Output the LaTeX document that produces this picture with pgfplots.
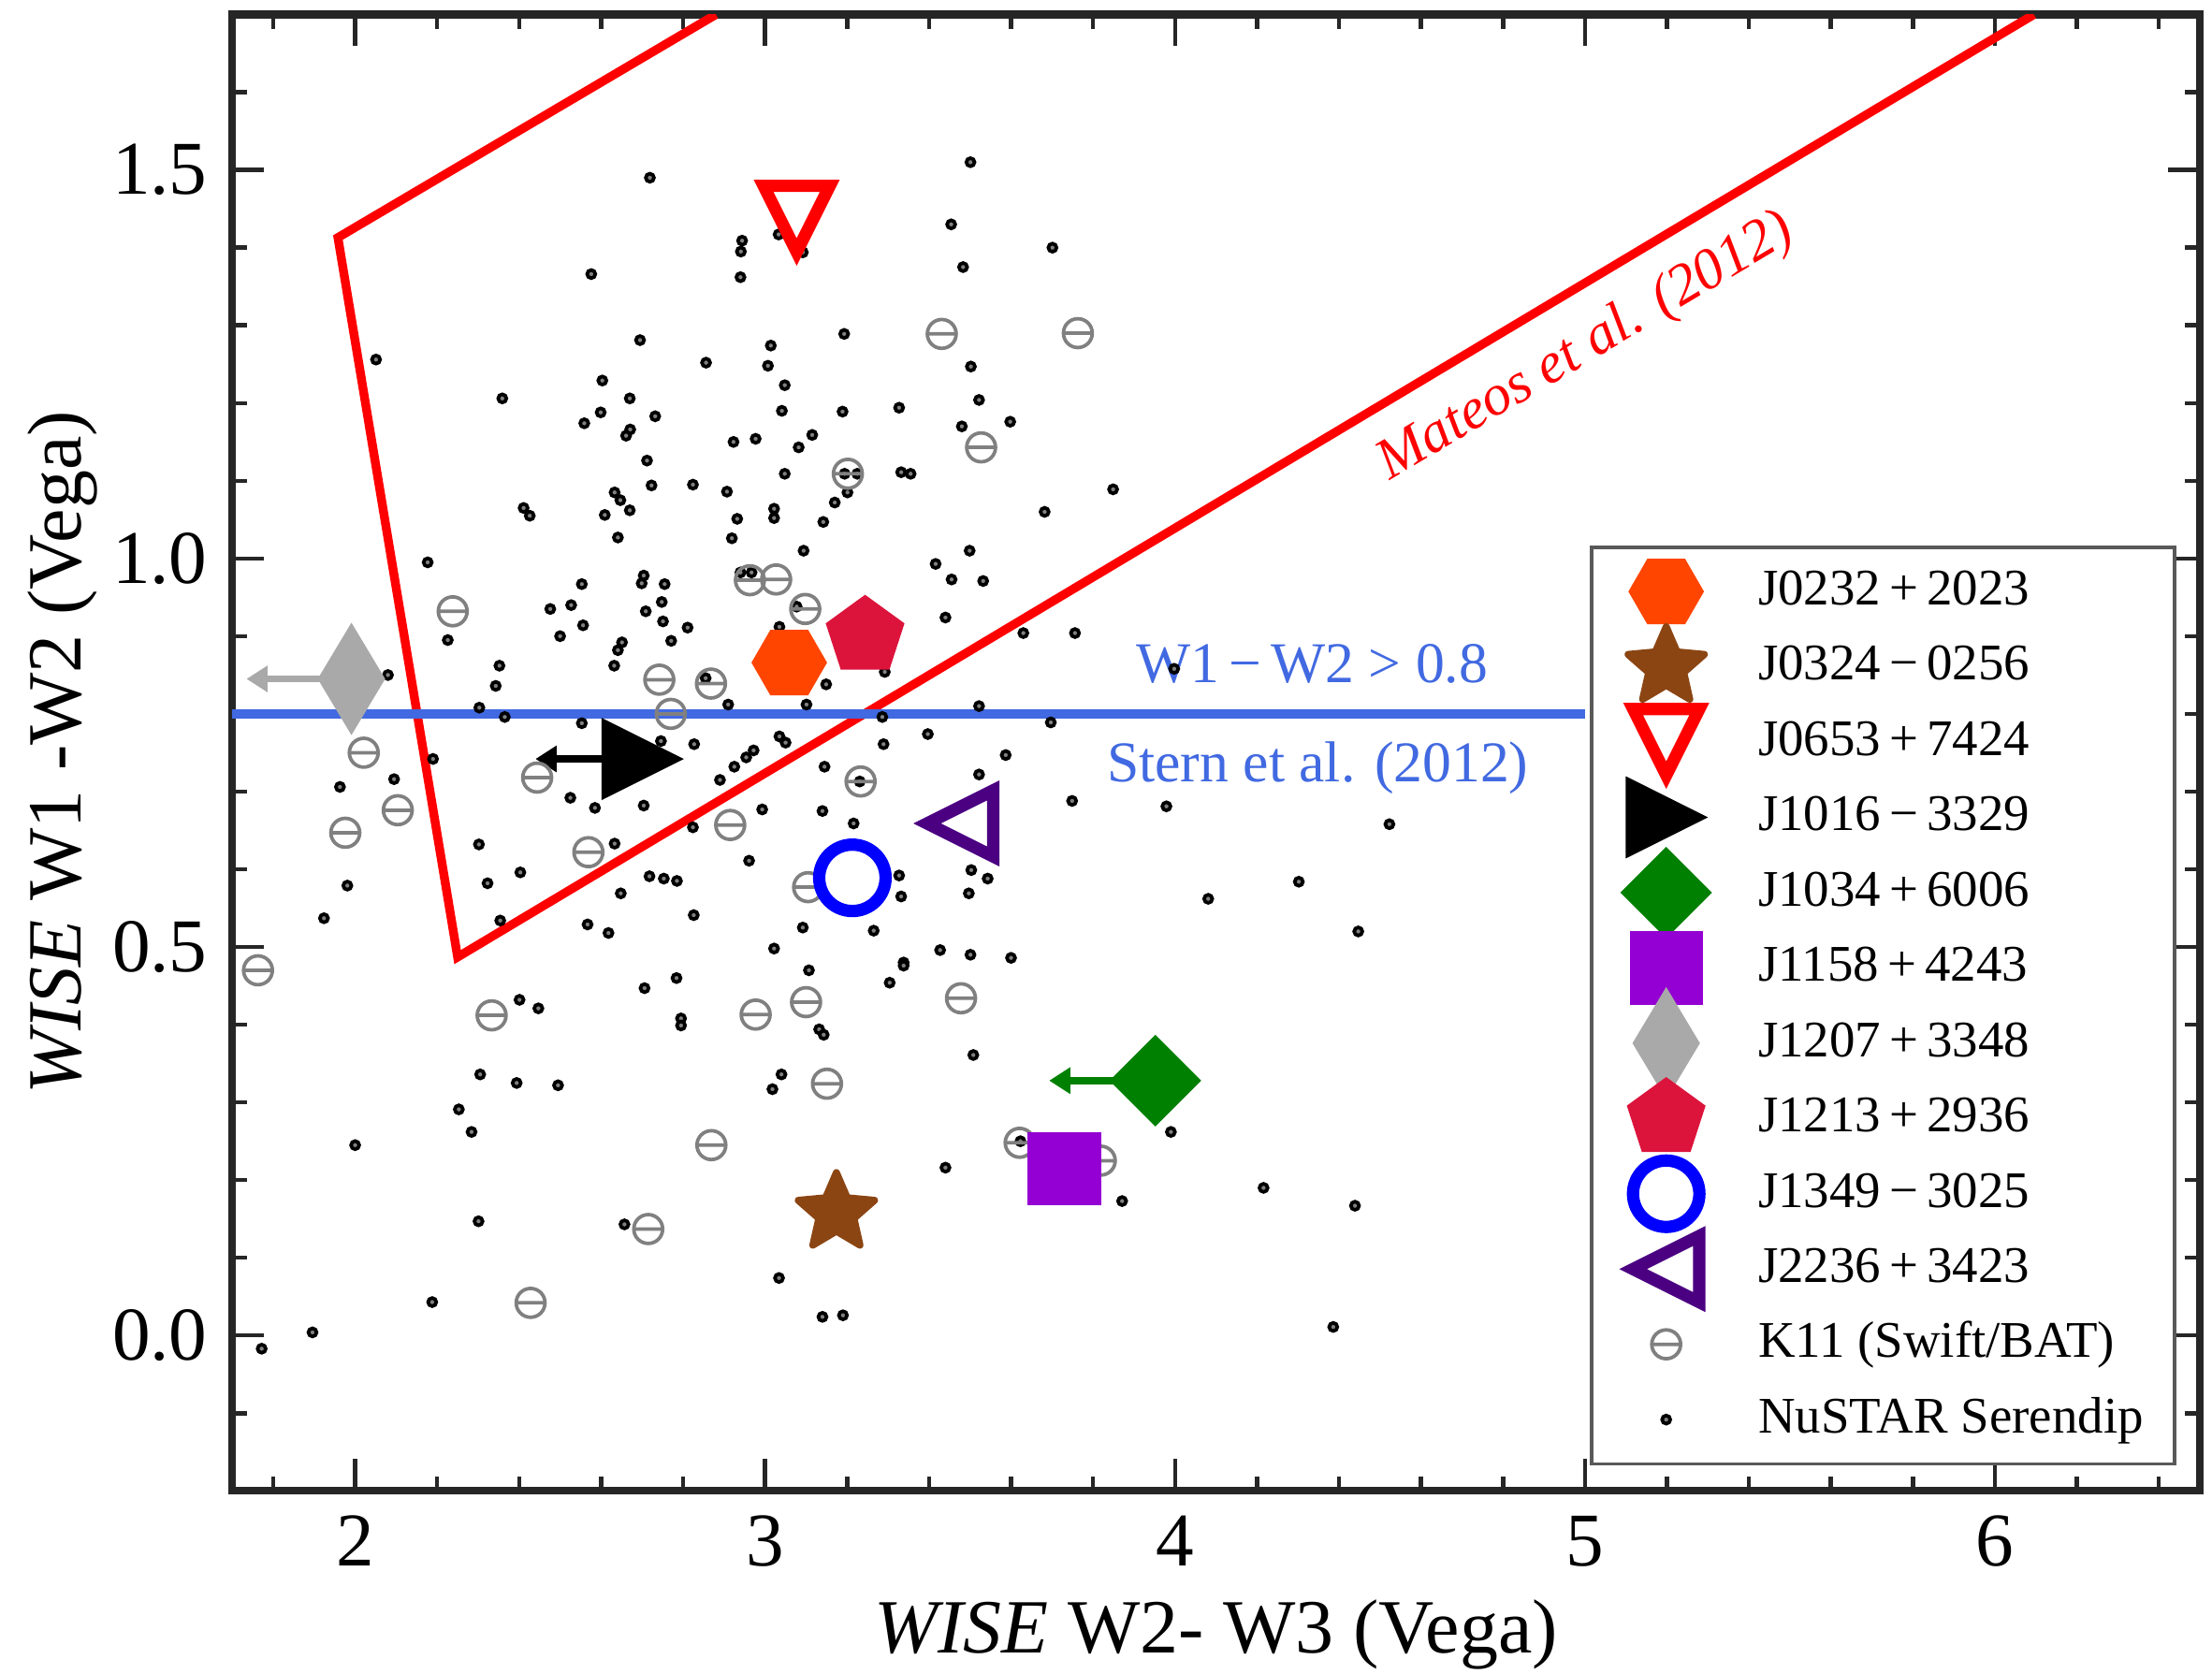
\documentclass[border=0pt]{standalone}
\usepackage{fontspec}
\setmainfont{Liberation Serif}
\usepackage{pgfplots}
\usepackage{pgfplotstable}
\pgfplotsset{compat=1.18}
\usetikzlibrary{arrows.meta}

\definecolor{cOrangeRed}{RGB}{255,69,0}
\definecolor{cSaddleBrown}{RGB}{139,69,19}
\definecolor{cGreen}{RGB}{0,128,0}
\definecolor{cDarkViolet}{RGB}{148,0,211}
\definecolor{cDarkGray}{RGB}{169,169,169}
\definecolor{cCrimson}{RGB}{220,20,60}
\definecolor{cIndigo}{RGB}{75,0,130}
\definecolor{cRoyalBlue}{RGB}{65,105,225}
\definecolor{cGrayK}{RGB}{128,128,128}
\definecolor{cFrame}{RGB}{38,38,38}

% ---- marker shapes -------------------------------------------------
\pgfdeclareplotmark{tridown}{%
  \pgfpathmoveto{\pgfqpoint{0pt}{-\pgfplotmarksize}}%
  \pgfpathlineto{\pgfqpoint{-\pgfplotmarksize}{\pgfplotmarksize}}%
  \pgfpathlineto{\pgfqpoint{\pgfplotmarksize}{\pgfplotmarksize}}%
  \pgfpathclose\pgfusepathqstroke}
\pgfdeclareplotmark{trileft}{%
  \pgfpathmoveto{\pgfqpoint{-\pgfplotmarksize}{0pt}}%
  \pgfpathlineto{\pgfqpoint{\pgfplotmarksize}{\pgfplotmarksize}}%
  \pgfpathlineto{\pgfqpoint{\pgfplotmarksize}{-\pgfplotmarksize}}%
  \pgfpathclose\pgfusepathqstroke}
\pgfdeclareplotmark{triright}{%
  \pgfpathmoveto{\pgfqpoint{\pgfplotmarksize}{0pt}}%
  \pgfpathlineto{\pgfqpoint{-\pgfplotmarksize}{\pgfplotmarksize}}%
  \pgfpathlineto{\pgfqpoint{-\pgfplotmarksize}{-\pgfplotmarksize}}%
  \pgfpathclose\pgfusepathqfillstroke}
\pgfdeclareplotmark{hexflat}{%
  \pgfpathmoveto{\pgfqpoint{\pgfplotmarksize}{0pt}}%
  \pgfpathlineto{\pgfqpoint{0.5\pgfplotmarksize}{0.866\pgfplotmarksize}}%
  \pgfpathlineto{\pgfqpoint{-0.5\pgfplotmarksize}{0.866\pgfplotmarksize}}%
  \pgfpathlineto{\pgfqpoint{-\pgfplotmarksize}{0pt}}%
  \pgfpathlineto{\pgfqpoint{-0.5\pgfplotmarksize}{-0.866\pgfplotmarksize}}%
  \pgfpathlineto{\pgfqpoint{0.5\pgfplotmarksize}{-0.866\pgfplotmarksize}}%
  \pgfpathclose\pgfusepathqfillstroke}
\pgfdeclareplotmark{pent}{%
  \pgfpathmoveto{\pgfqpoint{0pt}{\pgfplotmarksize}}%
  \pgfpathlineto{\pgfqpoint{-0.9511\pgfplotmarksize}{0.3090\pgfplotmarksize}}%
  \pgfpathlineto{\pgfqpoint{-0.5878\pgfplotmarksize}{-0.8090\pgfplotmarksize}}%
  \pgfpathlineto{\pgfqpoint{0.5878\pgfplotmarksize}{-0.8090\pgfplotmarksize}}%
  \pgfpathlineto{\pgfqpoint{0.9511\pgfplotmarksize}{0.3090\pgfplotmarksize}}%
  \pgfpathclose\pgfusepathqfillstroke}
\pgfdeclareplotmark{starfat}{%
  \pgfpathmoveto{\pgfqpoint{0pt}{\pgfplotmarksize}}%
  \pgfpathlineto{\pgfqpoint{-0.2704\pgfplotmarksize}{0.3721\pgfplotmarksize}}%
  \pgfpathlineto{\pgfqpoint{-0.9511\pgfplotmarksize}{0.3090\pgfplotmarksize}}%
  \pgfpathlineto{\pgfqpoint{-0.4375\pgfplotmarksize}{-0.1421\pgfplotmarksize}}%
  \pgfpathlineto{\pgfqpoint{-0.5878\pgfplotmarksize}{-0.8090\pgfplotmarksize}}%
  \pgfpathlineto{\pgfqpoint{0pt}{-0.46\pgfplotmarksize}}%
  \pgfpathlineto{\pgfqpoint{0.5878\pgfplotmarksize}{-0.8090\pgfplotmarksize}}%
  \pgfpathlineto{\pgfqpoint{0.4375\pgfplotmarksize}{-0.1421\pgfplotmarksize}}%
  \pgfpathlineto{\pgfqpoint{0.9511\pgfplotmarksize}{0.3090\pgfplotmarksize}}%
  \pgfpathlineto{\pgfqpoint{0.2704\pgfplotmarksize}{0.3721\pgfplotmarksize}}%
  \pgfpathclose\pgfusepathqfillstroke}
\pgfdeclareplotmark{diamondD}{%
  \pgfpathmoveto{\pgfqpoint{0pt}{\pgfplotmarksize}}%
  \pgfpathlineto{\pgfqpoint{\pgfplotmarksize}{0pt}}%
  \pgfpathlineto{\pgfqpoint{0pt}{-\pgfplotmarksize}}%
  \pgfpathlineto{\pgfqpoint{-\pgfplotmarksize}{0pt}}%
  \pgfpathclose\pgfusepathqfillstroke}
\pgfdeclareplotmark{diamondthin}{%
  \pgfpathmoveto{\pgfqpoint{0pt}{\pgfplotmarksize}}%
  \pgfpathlineto{\pgfqpoint{0.6\pgfplotmarksize}{0pt}}%
  \pgfpathlineto{\pgfqpoint{0pt}{-\pgfplotmarksize}}%
  \pgfpathlineto{\pgfqpoint{-0.6\pgfplotmarksize}{0pt}}%
  \pgfpathclose\pgfusepathqfillstroke}
\pgfdeclareplotmark{ominus}{%
  \pgfpathcircle{\pgfpointorigin}{\pgfplotmarksize}%
  \pgfpathmoveto{\pgfqpoint{-\pgfplotmarksize}{0pt}}%
  \pgfpathlineto{\pgfqpoint{\pgfplotmarksize}{0pt}}%
  \pgfusepathqstroke}

% ---- NuSTAR serendipitous sources ------------------------------------
\pgfplotstableread{
x y
2.576 1.366
2.051 1.256
2.603 1.229
2.359 1.206
2.599 1.188
2.559 1.174
2.633 1.085
2.647 1.075
2.411 1.065
2.426 1.055
2.609 1.056
2.641 1.027
2.719 1.490
3.501 1.510
3.454 1.430
3.483 1.375
2.944 1.409
2.941 1.395
2.940 1.362
3.033 1.417
3.092 1.394
3.193 1.289
2.695 1.281
3.014 1.274
2.856 1.252
3.007 1.248
3.048 1.223
3.502 1.247
3.522 1.204
3.598 1.176
3.480 1.170
2.670 1.206
2.732 1.183
2.671 1.166
2.661 1.158
3.041 1.190
3.189 1.189
3.327 1.194
2.923 1.150
2.977 1.154
3.115 1.159
3.082 1.143
2.712 1.126
3.048 1.109
3.194 1.109
3.225 1.109
3.332 1.111
3.355 1.109
3.201 1.085
3.170 1.072
3.142 1.047
2.723 1.094
2.824 1.095
2.907 1.086
2.670 1.062
2.932 1.051
3.022 1.064
3.022 1.052
2.919 1.026
3.094 1.010
3.499 1.010
3.701 1.400
3.849 1.089
3.682 1.060
2.177 0.995
2.553 0.967
2.476 0.935
2.527 0.940
2.556 0.914
2.500 0.900
2.226 0.895
2.651 0.892
2.641 0.882
2.632 0.862
2.080 0.850
2.352 0.862
2.343 0.836
2.303 0.808
2.365 0.796
2.553 0.788
2.190 0.742
2.095 0.716
1.963 0.706
2.525 0.692
2.585 0.679
2.302 0.632
2.633 0.633
2.403 0.596
2.323 0.582
2.648 0.569
1.981 0.579
1.924 0.537
2.354 0.534
2.567 0.529
2.618 0.518
2.704 0.978
2.699 0.968
2.755 0.967
2.748 0.944
2.709 0.932
2.751 0.919
2.811 0.911
2.771 0.894
2.940 0.982
2.967 0.982
3.416 0.993
3.455 0.973
3.532 0.971
3.440 0.924
3.077 0.938
2.855 0.846
3.035 0.912
3.149 0.838
3.292 0.854
2.910 0.812
3.101 0.812
3.522 0.810
3.286 0.796
2.746 0.765
2.827 0.761
3.035 0.771
3.050 0.763
2.972 0.753
2.954 0.744
2.925 0.732
2.890 0.715
3.397 0.774
3.289 0.761
3.587 0.747
3.145 0.732
3.231 0.713
3.522 0.722
2.704 0.682
2.824 0.654
2.993 0.677
3.140 0.675
3.216 0.659
2.961 0.611
2.718 0.591
2.753 0.588
2.785 0.585
3.327 0.592
3.332 0.565
3.503 0.599
3.543 0.588
3.497 0.569
2.826 0.541
3.092 0.525
3.265 0.521
3.022 0.498
3.427 0.496
3.501 0.490
3.600 0.486
3.338 0.480
3.630 0.904
3.756 0.904
3.697 0.789
3.998 0.858
3.749 0.688
3.979 0.681
4.523 0.658
4.302 0.584
4.081 0.562
4.447 0.520
2.401 0.432
2.447 0.421
2.305 0.336
2.394 0.325
2.495 0.322
2.253 0.291
2.284 0.262
2.000 0.245
2.301 0.147
2.657 0.143
2.188 0.043
1.896 0.004
1.772 -0.017
2.706 0.447
2.784 0.460
2.795 0.408
2.795 0.399
3.107 0.470
3.338 0.476
3.304 0.454
3.132 0.394
3.143 0.387
3.508 0.361
3.040 0.336
3.018 0.317
3.440 0.216
3.034 0.074
3.140 0.024
3.190 0.026
3.623 0.250
3.990 0.262
3.871 0.173
4.216 0.190
4.439 0.167
4.386 0.011
}\nustar

% ---- Koss et al. (2011) Swift/BAT AGN ------------------------------
\pgfplotstableread{
x y
3.431 1.289
3.763 1.290
3.527 1.143
3.202 1.109
2.963 0.972
3.027 0.973
3.098 0.935
2.238 0.932
2.742 0.844
2.868 0.839
2.770 0.800
2.021 0.750
2.444 0.718
2.104 0.676
3.233 0.713
2.915 0.657
1.976 0.647
2.569 0.622
3.105 0.577
1.763 0.470
2.333 0.412
2.977 0.413
3.100 0.429
3.478 0.434
3.151 0.324
2.869 0.245
2.715 0.137
2.428 0.042
3.621 0.248
3.819 0.225
}\kossbat

\tikzset{
  serendip/.style={only marks, mark=*, mark size=0.58pt,
    mark options={draw=black, fill=black!50, line width=0.5pt}},
  kossmark/.style={only marks, mark=ominus, mark size=2.05pt,
    mark options={draw=cGrayK, line width=0.5pt}},
  sHex/.style={only marks, mark=hexflat, mark size=5.2pt,
    mark options={draw=cOrangeRed, fill=cOrangeRed, line width=0.3pt}},
  sStar/.style={only marks, mark=starfat, mark size=5.7pt,
    mark options={draw=cSaddleBrown, fill=cSaddleBrown, line width=1pt, line join=round}},
  sTriDown/.style={only marks, mark=tridown, mark size=4.7pt,
    mark options={draw=red, line width=1.75pt, line join=miter}},
  sTriRight/.style={only marks, mark=triright, mark size=5.6pt,
    mark options={draw=black, fill=black, line width=0.3pt}},
  sDiamond/.style={only marks, mark=diamondD, mark size=6.3pt,
    mark options={draw=cGreen, fill=cGreen, line width=0.3pt}},
  sSquare/.style={only marks, mark=square*, mark size=5.05pt,
    mark options={draw=cDarkViolet, fill=cDarkViolet, line width=0.3pt}},
  sThin/.style={only marks, mark=diamondthin, mark size=7.7pt,
    mark options={draw=cDarkGray, fill=cDarkGray, line width=0.3pt}},
  sPent/.style={only marks, mark=pent, mark size=5.7pt,
    mark options={draw=cCrimson, fill=cCrimson, line width=0.3pt}},
  sCirc/.style={only marks, mark=o, mark size=4.72pt,
    mark options={draw=blue, line width=1.75pt}},
  sTriLeft/.style={only marks, mark=trileft, mark size=4.7pt,
    mark options={draw=cIndigo, line width=1.75pt, line join=miter}},
  limarrow/.style={line width=1pt, -{Triangle[length=3pt,width=3.6pt]}},
}

\begin{document}
\begin{tikzpicture}
\begin{axis}[
  scale only axis,
  width=279.7pt, height=209.85pt,
  xmin=1.7, xmax=6.5, ymin=-0.2, ymax=1.7,
  xtick={2,3,4,5,6},
  ytick={0,0.5,1,1.5},
  minor xtick={1.8,2.2,2.4,2.6,2.8,3.2,3.4,3.6,3.8,4.2,4.4,4.6,4.8,5.2,5.4,5.6,5.8,6.2,6.4},
  minor ytick={-0.1,0.1,0.2,0.3,0.4,0.6,0.7,0.8,0.9,1.1,1.2,1.3,1.4,1.6},
  tick align=inside,
  major tick length=4.5pt,
  minor tick length=2.1pt,
  axis line style={cFrame, line width=1.1pt},
  tick style={cFrame, line width=0.6pt},
  /pgf/number format/assume math mode=true,
  tick label style={font=\fontsize{10.8}{13}\selectfont},
  yticklabel style={/pgf/number format/fixed,
    /pgf/number format/fixed zerofill,
    /pgf/number format/precision=1},
  xlabel={\textit{WISE} W2- W3 (Vega)},
  ylabel={\textit{WISE} W1 -W2 (Vega)},
  label style={font=\fontsize{10.9}{13}\selectfont},
  xlabel style={at={(axis description cs:0.5,-0.110)}, anchor=base},
  ylabel style={at={(axis description cs:-0.077,0.5)}, anchor=base},
  legend cell align=left,
  legend image code/.code={%
    \path[draw=none, fill=none] (0pt,-1pt) rectangle (19.0pt,1pt);
    \draw[overlay,#1] plot coordinates {(8.4pt,0pt)};},
  legend style={
    at={(0.690,0.6404)}, anchor=north west,
    draw=black!65, line width=0.5pt, fill=white,
    inner xsep=2.2pt, inner ysep=2.9pt,
    row sep=3.9pt, column sep=0.3pt,
    nodes={inner xsep=2.2pt, inner ysep=0pt, text height=5.3pt, text depth=1.5pt},
    font=\fontsize{7.3}{9}\selectfont},
]

% Mateos et al. (2012) AGN wedge
\addplot[red, line width=1.25pt, forget plot]
  coordinates {(2.880,1.700) (1.958,1.413) (2.250,0.487) (6.095,1.700)};
% Stern et al. (2012) colour cut W1-W2 > 0.8
\addplot[cRoyalBlue, line width=1.25pt, forget plot]
  coordinates {(1.7,0.8) (5.0,0.8)};

\addplot[serendip, forget plot] table[x=x, y=y] {\nustar};
\addplot[kossmark, forget plot] table[x=x, y=y] {\kossbat};

% upper limits in W2-W3
\addplot[black, limarrow, forget plot] coordinates {(2.700,0.742) (2.440,0.742)};
\addplot[cGreen, limarrow, forget plot] coordinates {(3.952,0.328) (3.693,0.328)};
\addplot[cDarkGray, limarrow, forget plot] coordinates {(1.991,0.845) (1.735,0.845)};

% NuSTAR-selected sources
\addplot[sHex, forget plot] coordinates {(3.059,0.866)};
\addplot[sStar, forget plot] coordinates {(3.174,0.158)};
\addplot[sTriDown, forget plot] coordinates {(3.077,1.437)};
\addplot[sTriRight, forget plot] coordinates {(2.700,0.742)};
\addplot[sDiamond, forget plot] coordinates {(3.952,0.328)};
\addplot[sSquare, forget plot] coordinates {(3.730,0.215)};
\addplot[sThin, forget plot] coordinates {(1.991,0.845)};
\addplot[sPent, forget plot] coordinates {(3.244,0.900)};
\addplot[sCirc, forget plot] coordinates {(3.213,0.589)};
\addplot[sTriLeft, forget plot] coordinates {(3.476,0.659)};

\node[cRoyalBlue, anchor=base, font=\fontsize{8.2}{10}\selectfont]
  at (axis cs:4.334,0.840) {W1\,−\,W2 > 0.8};
\node[cRoyalBlue, anchor=base, font=\fontsize{8.2}{10}\selectfont]
  at (axis cs:4.348,0.713) {Stern et al. (2012)};
\node[red, rotate=30.8, font=\fontsize{8.2}{10}\selectfont\itshape]
  at (axis cs:5.003,1.271) {Mateos et al. (2012)};

\addlegendimage{sHex}\addlegendentry{J0232\,+\,2023}
\addlegendimage{sStar}\addlegendentry{J0324\,−\,0256}
\addlegendimage{sTriDown}\addlegendentry{J0653\,+\,7424}
\addlegendimage{sTriRight}\addlegendentry{J1016\,−\,3329}
\addlegendimage{sDiamond}\addlegendentry{J1034\,+\,6006}
\addlegendimage{sSquare}\addlegendentry{J1158\,+\,4243}
\addlegendimage{sThin}\addlegendentry{J1207\,+\,3348}
\addlegendimage{sPent}\addlegendentry{J1213\,+\,2936}
\addlegendimage{sCirc}\addlegendentry{J1349\,−\,3025}
\addlegendimage{sTriLeft}\addlegendentry{J2236\,+\,3423}
\addlegendimage{kossmark}\addlegendentry{K11 (Swift/BAT)}
\addlegendimage{serendip}\addlegendentry{NuSTAR Serendip}
\end{axis}
\pgfresetboundingbox
\path[use as bounding box]
  ([xshift=-33.0pt,yshift=-25.9pt]current axis.south west)
  rectangle ([xshift=1.73pt,yshift=2.07pt]current axis.north east);
\end{tikzpicture}
\end{document}
